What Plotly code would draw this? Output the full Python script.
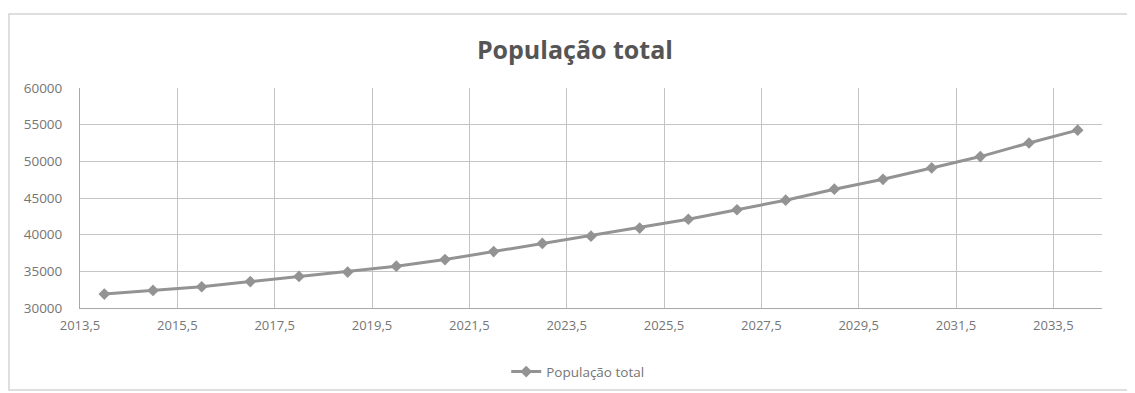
import plotly.graph_objects as go

years = [2014, 2015, 2016, 2017, 2018, 2019, 2020, 2021, 2022, 2023, 2024,
         2025, 2026, 2027, 2028, 2029, 2030, 2031, 2032, 2033, 2034]
populacao = [31900, 32400, 32900, 33600, 34300, 34900, 35700, 36600, 37700, 38800, 39800,
             40900, 42100, 43400, 44700, 46200, 47550, 49100, 50650, 52500, 54250]
x_tickvals = [2013.5, 2015.5, 2017.5, 2019.5, 2021.5, 2023.5, 2025.5, 2027.5, 2029.5, 2031.5, 2033.5]
x_ticktext = ["2013,5", "2015,5", "2017,5", "2019,5", "2021,5", "2023,5", "2025,5",
              "2027,5", "2029,5", "2031,5", "2033,5"]
y_tickvals = [30000, 35000, 40000, 45000, 50000, 55000, 60000]
y_ticktext = ["30000", "35000", "40000", "45000", "50000", "55000", "60000"]
series_name = "População total"

fig = go.Figure()
fig.add_trace(go.Scatter(
    x=years, y=populacao, name=series_name, mode="lines+markers",
    line=dict(color="#939393", width=3),
    marker=dict(symbol="diamond", size=9, color="#939393"),
))

fig.update_layout(
    width=1127, height=385,
    margin=dict(l=72, r=33, t=80, b=85, autoexpand=False),
    paper_bgcolor="white", plot_bgcolor="white",
    font=dict(family="Open Sans, Liberation Sans, sans-serif", color="#757575", size=13),
    title=dict(text="<b>População total</b>", x=0.503, xanchor="center", y=0.891, yanchor="middle",
               font=dict(size=25, color="#555555")),
    showlegend=True,
    legend=dict(orientation="h", x=0.487, xanchor="center", y=-0.29, yanchor="middle",
                font=dict(size=13.5, color="#757575"), bgcolor="rgba(0,0,0,0)"),
    xaxis=dict(range=[2013.5, 2034.5], tickvals=x_tickvals, ticktext=x_ticktext,
               showgrid=True, gridcolor="#c4c4c4", gridwidth=1,
               showline=True, linecolor="#a8a8a8", linewidth=1, zeroline=False,
               ticks="", ticklabelstandoff=5, tickfont=dict(size=13)),
    yaxis=dict(range=[30000, 60000], tickvals=y_tickvals, ticktext=y_ticktext,
               showgrid=True, gridcolor="#c4c4c4", gridwidth=1,
               showline=True, linecolor="#a8a8a8", linewidth=1, zeroline=False,
               ticks="", ticklabelstandoff=14, tickfont=dict(size=13.5)),
    shapes=[dict(type="rect", xref="paper", yref="paper",
                 x0=-0.0695, x1=1.0254, y0=-0.373, y1=1.336,
                 line=dict(color="#d4d4d4", width=1.5), layer="below")],
)

fig.write_html("out.html")
